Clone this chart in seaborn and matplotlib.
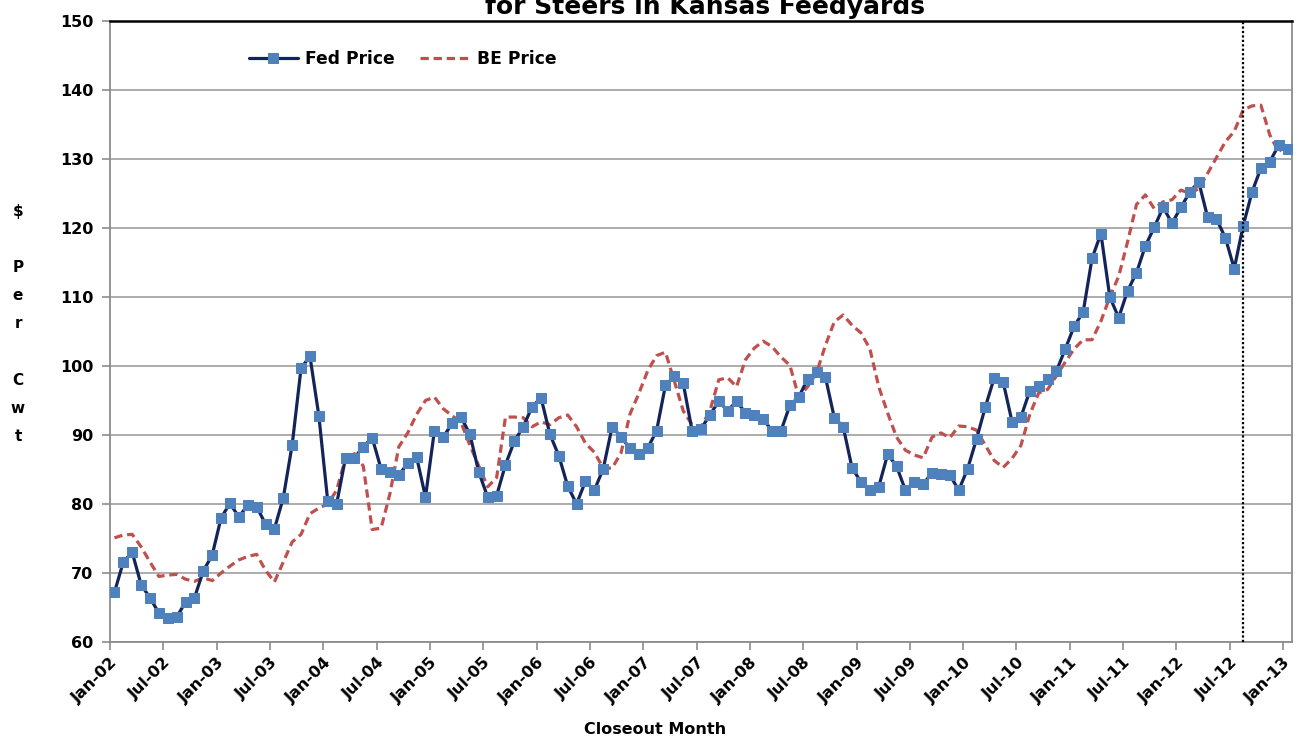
import numpy as np
import pandas as pd
import matplotlib
matplotlib.use("Agg")
import matplotlib.pyplot as plt
import seaborn as sns

# ---- data (monthly, Jan-02 .. Jan-13) ----
fed_price = [
    67.2, 71.6, 73.0, 68.3, 66.4, 64.2, 63.5, 63.6, 65.8, 66.4, 70.3, 72.6,
    78.0, 80.1, 78.1, 79.9, 79.6, 77.1, 76.4, 80.9, 88.6, 99.7, 101.4, 92.8,
    80.4, 80.0, 86.7, 86.7, 88.3, 89.6, 85.1, 84.6, 84.2, 85.9, 86.8, 81.0,
    90.6, 89.7, 91.7, 92.6, 90.1, 84.6, 81.0, 81.2, 85.7, 89.1, 91.2, 94.1,
    95.4, 90.1, 87.0, 82.6, 80.0, 83.3, 82.0, 85.1, 91.2, 89.7, 88.1, 87.2,
    88.1, 90.6, 97.2, 98.5, 97.5, 90.6, 90.9, 92.9, 94.9, 93.5, 94.9, 93.2,
    92.9, 92.3, 90.6, 90.6, 94.3, 95.5, 98.1, 99.1, 98.4, 92.5, 91.2, 85.2,
    83.2, 82.0, 82.5, 87.2, 85.5, 82.0, 83.2, 82.9, 84.5, 84.3, 84.2, 82.0,
    85.1, 89.4, 94.1, 98.3, 97.7, 91.9, 92.6, 96.4, 97.1, 98.1, 99.3, 102.5,
    105.8, 107.8, 115.6, 119.2, 110.0, 107.0, 110.9, 113.5, 117.4, 120.1, 123.0, 120.7,
    123.0, 125.2, 126.7, 121.6, 121.3, 118.6, 114.1, 120.3, 125.2, 128.7, 129.6, 132.0,
    131.4,
]
be_price = [
    75.1, 75.5, 75.6, 73.8, 71.6, 69.5, 69.7, 69.8, 69.1, 68.8, 69.3, 68.9,
    70.0, 71.0, 71.9, 72.4, 72.7, 70.4, 68.7, 71.6, 74.5, 75.6, 78.6, 79.4,
    80.0, 82.0, 86.6, 87.3, 85.5, 76.3, 76.5, 81.5, 88.3, 90.3, 93.0, 95.0,
    95.5, 93.8, 92.8, 91.8, 88.5, 85.5, 82.5, 83.8, 92.6, 92.6, 92.5, 91.2,
    91.9, 91.5, 92.5, 92.9, 91.2, 88.8, 87.5, 85.2, 85.2, 87.4, 93.0, 96.0,
    99.3, 101.5, 102.0, 97.8, 93.5, 91.5, 91.2, 93.5, 98.0, 98.3, 97.0, 100.9,
    102.6, 103.6, 102.8, 101.3, 100.1, 95.5, 97.0, 99.0, 103.0, 106.4, 107.4, 105.9,
    104.8, 102.5, 97.0, 93.2, 89.7, 87.8, 87.1, 86.7, 89.7, 90.3, 89.6, 91.3,
    91.2, 90.7, 88.5, 86.3, 85.3, 86.6, 88.5, 93.0, 96.1, 96.6, 98.6, 100.6,
    102.5, 103.8, 103.8, 106.5, 110.0, 113.0, 118.0, 123.4, 124.8, 122.8, 123.8, 124.1,
    125.5, 125.0, 125.7, 127.9, 130.2, 132.5, 134.0, 137.1, 137.7, 137.8, 133.5, 131.0,
    132.5,
]
tick_labels = ["Jan-02", "Jul-02", "Jan-03", "Jul-03", "Jan-04", "Jul-04", "Jan-05",
               "Jul-05", "Jan-06", "Jul-06", "Jan-07", "Jul-07", "Jan-08", "Jul-08",
               "Jan-09", "Jul-09", "Jan-10", "Jul-10", "Jan-11", "Jul-11", "Jan-12",
               "Jul-12", "Jan-13"]
series_names = ["Fed Price", "BE Price"]
marker_month = 127  # Aug-12 reference line

# ---- style ----
sns.set_style("white")
plt.rcParams["font.family"] = ["DejaVu Sans"]
plt.rcParams["font.weight"] = "bold"
plt.rcParams["text.color"] = "black"
plt.rcParams["xtick.color"] = "black"
plt.rcParams["ytick.color"] = "black"

FED_LINE = "#13245a"
FED_MARK = "#4f81bd"
BE_COL = "#c0504d"
GRID = "#a6a6a6"
SPINE = "#8c8c8c"

months = np.arange(len(fed_price))
df = pd.DataFrame({"month": months, "fed": fed_price, "be": be_price})

fig = plt.figure(figsize=(12.99, 7.5), dpi=100)
ax = fig.add_axes([110 / 1299, 1 - 642 / 750, (1292 - 110) / 1299, (642 - 21) / 750])

ax.yaxis.grid(True, color=GRID, linewidth=1.3)
ax.set_axisbelow(True)

sns.lineplot(data=df, x="month", y="be", ax=ax, color=BE_COL, linewidth=2.3,
             dashes=False, label=series_names[1], zorder=3)
ax.lines[-1].set_dashes((2.6, 1.5))
sns.lineplot(data=df, x="month", y="fed", ax=ax, color=FED_LINE, linewidth=2.3,
             marker="s", markersize=6.8, markerfacecolor=FED_MARK,
             markeredgecolor=FED_MARK, label=series_names[0], zorder=4)

ax.axvline(marker_month, color="black", linestyle=(0, (1, 1)), linewidth=1.6, zorder=5)

ax.set_xlim(-0.5, 132.5)
ax.set_ylim(60, 150)
ax.set_yticks(np.arange(60, 151, 10))
ax.set_xticks(np.arange(len(tick_labels)) * 6 - 0.5)
ax.set_xticklabels(tick_labels, rotation=45, ha="right", rotation_mode="anchor",
                   fontsize=11.5, fontweight="bold", color="black")
for t in ax.get_yticklabels():
    t.set_fontsize(11.5)
    t.set_fontweight("bold")
    t.set_color("black")
ax.tick_params(axis="both", which="both", direction="out", length=6, width=1.2,
               color=SPINE, labelcolor="black", bottom=True, left=True, pad=4)
ax.tick_params(axis="y", pad=6)
ax.tick_params(axis="x", pad=3)
ax.set_xlabel("")
ax.set_ylabel("")

for side in ["left", "bottom", "right"]:
    ax.spines[side].set_color(SPINE)
    ax.spines[side].set_linewidth(1.3)
ax.spines["top"].set_color("black")
ax.spines["top"].set_linewidth(1.8)

handles, labels = ax.get_legend_handles_labels()
order = [labels.index(series_names[0]), labels.index(series_names[1])]
leg = ax.legend([handles[i] for i in order], [labels[i] for i in order],
                loc="center left", bbox_to_anchor=(240 / 1299, 1 - 59 / 750),
                bbox_transform=fig.transFigure, ncol=2, frameon=False,
                handlelength=2.9, handletextpad=0.4, columnspacing=1.5,
                borderpad=0, prop={"weight": "bold", "size": 12.3},
                labelcolor="black")

fig.text(705 / 1299, 1 - 14 / 750, "for Steers in Kansas Feedyards", ha="center",
         va="baseline", fontsize=18, fontweight="bold", color="black")
fig.text(655 / 1299, 1 - 730 / 750, "Closeout Month", ha="center", va="center",
         fontsize=11.5, fontweight="bold", color="black")
fig.text(18 / 1299, 1 - 324 / 750, "$\n\nP\ne\nr\n\nC\nw\nt", ha="center",
         va="center", fontsize=11, fontweight="bold", linespacing=2.1, color="black")

fig.savefig("out.png", dpi=100)
